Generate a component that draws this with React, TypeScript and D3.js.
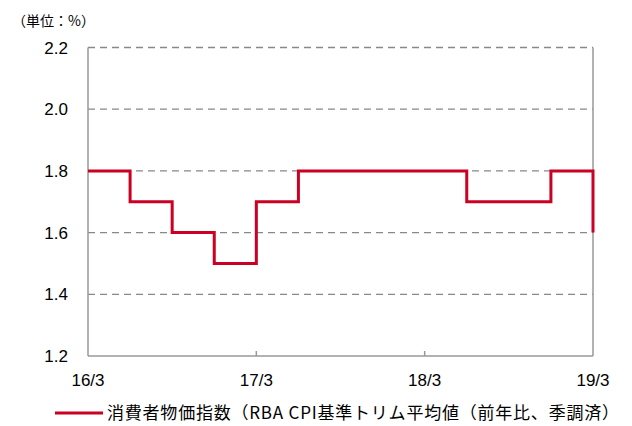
import * as d3 from "d3";
import { useEffect, useRef } from "react";

const W = 632;
const H = 426;

// quarters 16/3 .. 19/3
const quarters = [
  "16/3", "16/6", "16/9", "16/12",
  "17/3", "17/6", "17/9", "17/12",
  "18/3", "18/6", "18/9", "18/12",
  "19/3",
];
const trimmedMean = [1.8, 1.7, 1.6, 1.5, 1.7, 1.8, 1.8, 1.8, 1.8, 1.7, 1.7, 1.8, 1.6];
const yTicks = [1.2, 1.4, 1.6, 1.8, 2.0, 2.2];
const xTickLabels = ["16/3", "17/3", "18/3", "19/3"];
const unitLabel = "（単位：%）";
const legendLabel = "消費者物価指数（RBA CPI基準トリム平均値（前年比、季調済）";

const FONT = "'Noto Sans CJK JP', 'Noto Sans', sans-serif";
const NUM_FONT = "'Liberation Sans', Arial, sans-serif";
const RED = "#cc0022";

export default function App() {
  const ref = useRef<SVGSVGElement | null>(null);

  useEffect(() => {
    if (!ref.current) return;
    const svg = d3.select(ref.current);
    svg.selectAll("*").remove();

    const left = 88, right = 593, top = 47.5, bottom = 356;

    const x = d3.scalePoint<string>().domain(quarters).range([left, right]);
    const y = d3.scaleLinear().domain([1.2, 2.2]).range([bottom, top]);

    // gridlines
    svg.append("g")
      .selectAll("line")
      .data(yTicks.filter((t) => t > 1.2))
      .enter()
      .append("line")
      .attr("x1", left)
      .attr("x2", right)
      .attr("y1", (d) => y(d))
      .attr("y2", (d) => y(d))
      .attr("stroke", "#888")
      .attr("stroke-width", 1.3)
      .attr("stroke-dasharray", "7,5");

    // frame
    const frame = svg.append("g").attr("stroke", "#999").attr("stroke-width", 1.5);
    frame.append("line").attr("x1", left).attr("x2", left).attr("y1", top).attr("y2", bottom);
    frame.append("line").attr("x1", right).attr("x2", right).attr("y1", top).attr("y2", bottom);
    frame.append("line").attr("x1", left).attr("x2", right).attr("y1", bottom).attr("y2", bottom);

    // x ticks (inward)
    svg.append("g")
      .selectAll("line")
      .data(xTickLabels.slice(1, -1))
      .enter()
      .append("line")
      .attr("x1", (d) => x(d)!)
      .attr("x2", (d) => x(d)!)
      .attr("y1", bottom)
      .attr("y2", bottom - 5)
      .attr("stroke", "#999")
      .attr("stroke-width", 1.5);

    // y labels
    svg.append("g")
      .selectAll("text")
      .data(yTicks)
      .enter()
      .append("text")
      .attr("x", 68)
      .attr("y", (d) => y(d))
      .attr("dy", "0.36em")
      .attr("text-anchor", "end")
      .attr("font-family", NUM_FONT)
      .attr("font-size", 17)
      .attr("fill", "#000")
      .text((d) => d.toFixed(1));

    // x labels
    svg.append("g")
      .selectAll("text")
      .data(xTickLabels)
      .enter()
      .append("text")
      .attr("x", (d) => x(d)!)
      .attr("y", 386)
      .attr("text-anchor", "middle")
      .attr("font-family", NUM_FONT)
      .attr("font-size", 17)
      .attr("fill", "#000")
      .text((d) => d);

    // step line
    const line = d3
      .line<number>()
      .x((_, i) => x(quarters[i])!)
      .y((d) => y(d))
      .curve(d3.curveStepAfter);

    svg.append("path")
      .datum(trimmedMean)
      .attr("d", line)
      .attr("fill", "none")
      .attr("stroke", RED)
      .attr("stroke-width", 3);

    // unit label
    svg.append("text")
      .attr("x", 12)
      .attr("y", 26)
      .attr("font-family", FONT)
      .attr("font-size", 14)
      .attr("fill", "#000")
      .text(unitLabel);

    // legend
    svg.append("line")
      .attr("x1", 55)
      .attr("x2", 103)
      .attr("y1", 413)
      .attr("y2", 413)
      .attr("stroke", RED)
      .attr("stroke-width", 3);
    svg.append("text")
      .attr("x", 107)
      .attr("y", 413)
      .attr("dy", "0.36em")
      .attr("font-family", FONT)
      .attr("font-size", 17)
      .attr("textLength", 512)
      .attr("lengthAdjust", "spacing")
      .attr("fill", "#000")
      .text(legendLabel);
  }, []);

  return (
    <svg
      ref={ref}
      width={W}
      height={H}
      style={{ display: "block", position: "absolute", left: 0, top: 0, background: "#fff" }}
    />
  );
}
